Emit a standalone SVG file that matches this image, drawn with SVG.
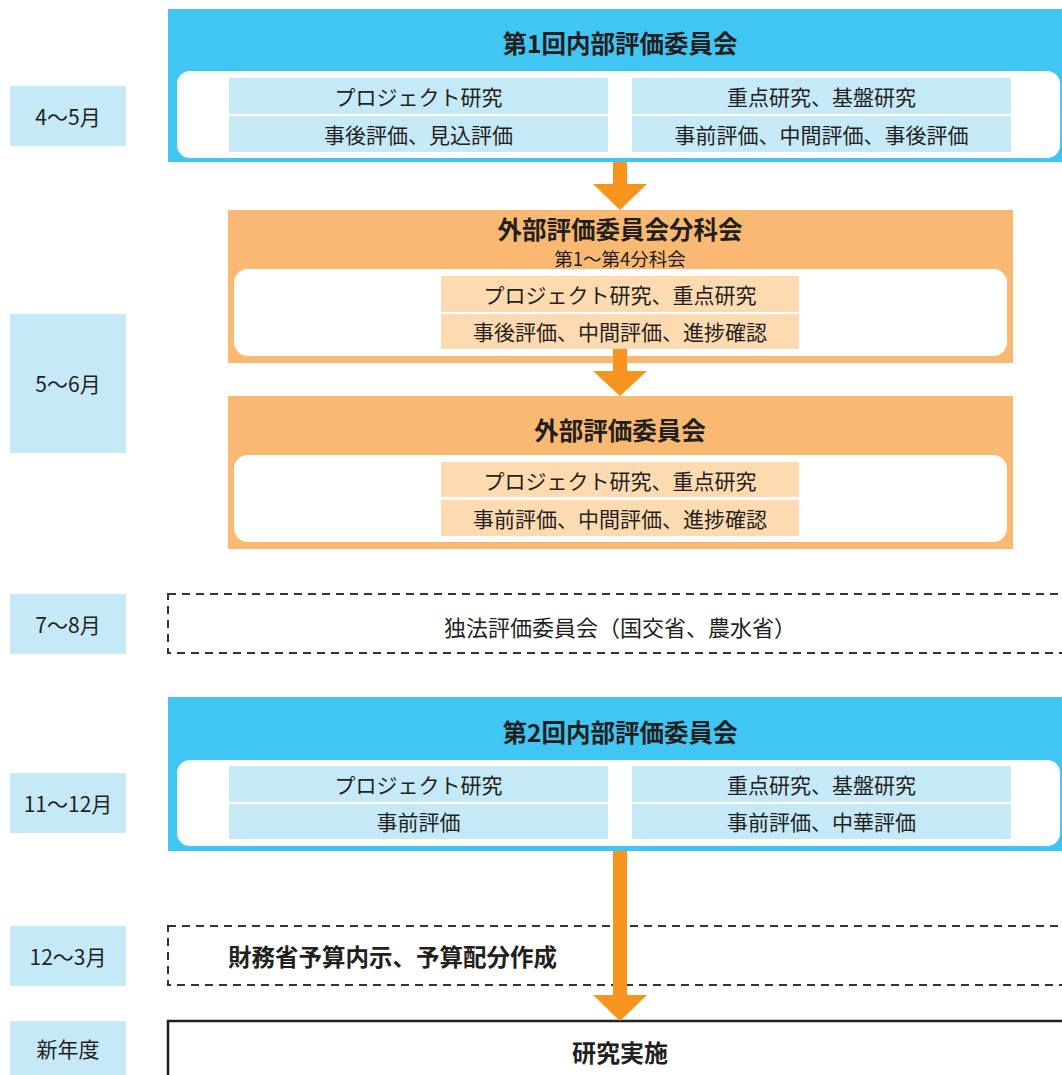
<svg xmlns="http://www.w3.org/2000/svg" width="1062" height="1075" viewBox="0 0 1062 1075">
<style>
text{font-family:"Noto Sans CJK JP","Noto Sans",sans-serif;fill:#231f20;text-anchor:middle;dominant-baseline:central}
.lbl{fill:#c6e9f8}
.lt{font-size:21px}
.blue{fill:#41c6f3}
.org{fill:#fab972}
.inner{fill:#fff}
.bc{fill:#c6e9f8}
.oc{fill:#fddab0}
.ct{font-size:21px}
.title{font-size:24.5px;font-weight:bold}
.sub{font-size:18.5px}
.dash{fill:#fff;stroke:#333;stroke-width:2;stroke-dasharray:8 6}
.solid{fill:#fff;stroke:#231f20;stroke-width:2.5}
.arr{fill:#f7941e}
</style>
<g id="labels">
<g id="l1"><rect class="lbl" x="10" y="86" width="116" height="60"/><text class="lt" x="68" y="116">4～5月</text></g>
<g id="l2"><rect class="lbl" x="10" y="314" width="116" height="139"/><text class="lt" x="68" y="383">5～6月</text></g>
<g id="l3"><rect class="lbl" x="10" y="594" width="116" height="60"/><text class="lt" x="68" y="624">7～8月</text></g>
<g id="l4"><rect class="lbl" x="10" y="773" width="116" height="60"/><text class="lt" x="68" y="803">11～12月</text></g>
<g id="l5"><rect class="lbl" x="10" y="926" width="116" height="60"/><text class="lt" x="68" y="956">12～3月</text></g>
<g id="l6"><rect class="lbl" x="10" y="1021" width="116" height="60"/><text class="lt" x="68" y="1048">新年度</text></g>
</g>
<g id="internal1">
<rect class="blue" x="168" y="9" width="900" height="153"/>
<text class="title" x="620" y="42">第1回内部評価委員会</text>
<rect class="inner" x="177" y="71" width="883" height="87" rx="13"/>
<rect class="bc" x="229" y="78" width="379" height="36"/>
<rect class="bc" x="229" y="116" width="379" height="36"/>
<rect class="bc" x="632" y="78" width="379" height="36"/>
<rect class="bc" x="632" y="116" width="379" height="36"/>
<text class="ct" x="418.5" y="96">プロジェクト研究</text>
<text class="ct" x="418.5" y="134">事後評価、見込評価</text>
<text class="ct" x="821.5" y="96">重点研究、基盤研究</text>
<text class="ct" x="821.5" y="134">事前評価、中間評価、事後評価</text>
</g>
<g id="external-sub">
<rect class="org" x="228" y="210" width="785" height="153"/>
<text class="title" x="620" y="228">外部評価委員会分科会</text>
<text class="sub" x="620" y="258">第1～第4分科会</text>
<rect class="inner" x="234" y="269" width="773" height="87" rx="14"/>
<rect class="oc" x="441" y="276" width="358" height="36"/>
<rect class="oc" x="441" y="314" width="358" height="35"/>
<text class="ct" x="620" y="294">プロジェクト研究、重点研究</text>
<text class="ct" x="620" y="331">事後評価、中間評価、進捗確認</text>
</g>
<g id="external">
<rect class="org" x="228" y="396" width="785" height="153"/>
<text class="title" x="620" y="429">外部評価委員会</text>
<rect class="inner" x="234" y="455" width="773" height="87" rx="14"/>
<rect class="oc" x="441" y="462" width="358" height="35"/>
<rect class="oc" x="441" y="500" width="358" height="36"/>
<text class="ct" x="620" y="480">プロジェクト研究、重点研究</text>
<text class="ct" x="620" y="518">事前評価、中間評価、進捗確認</text>
</g>
<g id="agency">
<rect class="dash" x="168" y="594" width="910" height="59"/>
<text x="620" y="626" style="font-size:22px">独法評価委員会（国交省、農水省）</text>
</g>
<g id="internal2">
<rect class="blue" x="168" y="697" width="900" height="154"/>
<text class="title" x="620" y="731">第2回内部評価委員会</text>
<rect class="inner" x="177" y="760" width="883" height="86" rx="13"/>
<rect class="bc" x="229" y="766" width="379" height="36"/>
<rect class="bc" x="229" y="804" width="379" height="35"/>
<rect class="bc" x="632" y="766" width="379" height="36"/>
<rect class="bc" x="632" y="804" width="379" height="35"/>
<text class="ct" x="418.5" y="784">プロジェクト研究</text>
<text class="ct" x="418.5" y="821">事前評価</text>
<text class="ct" x="821.5" y="784">重点研究、基盤研究</text>
<text class="ct" x="821.5" y="821">事前評価、中華評価</text>
</g>
<g id="budget">
<rect class="dash" x="168" y="926" width="910" height="59"/>
<text x="228" y="956" style="font-size:23.5px;font-weight:bold;text-anchor:start">財務省予算内示、予算配分作成</text>
</g>
<g id="implement">
<rect class="solid" x="168" y="1021" width="910" height="70"/>
<text x="620" y="1051" style="font-size:24px;font-weight:bold">研究実施</text>
</g>
<g id="connectors">
<path class="arr" d="M613 162H627V184H647L620 210L593 184H613Z"/>
<path class="arr" d="M613 349H627V371H647L620 396L593 371H613Z"/>
<path class="arr" d="M613 851H627V995H647L620 1021L593 995H613Z"/>
</g>
</svg>
